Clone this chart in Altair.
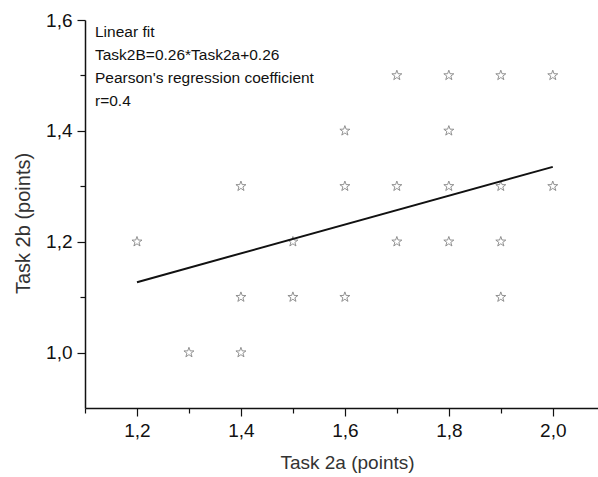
import altair as alt
import pandas as pd

# Scores per student
task2a = [1.2, 1.3, 1.4, 1.4, 1.4, 1.5, 1.5, 1.6, 1.6, 1.6, 1.7, 1.7, 1.7,
          1.8, 1.8, 1.8, 1.8, 1.9, 1.9, 1.9, 1.9, 2.0, 2.0]
task2b = [1.2, 1.0, 1.3, 1.1, 1.0, 1.2, 1.1, 1.4, 1.3, 1.1, 1.5, 1.3, 1.2,
          1.5, 1.4, 1.3, 1.2, 1.5, 1.3, 1.2, 1.1, 1.5, 1.3]

# Fitted line end points
fit_x = [1.2, 2.0]
fit_y = [1.127, 1.335]

notes = ["Linear fit", "Task2B=0.26*Task2a+0.26",
         "Pearson's regression coefficient", "r=0.4"]

x_major = [1.2, 1.4, 1.6, 1.8, 2.0]
x_minor = [1.1, 1.3, 1.5, 1.7, 1.9]
y_major = [1.0, 1.2, 1.4, 1.6]
y_minor = [1.1, 1.3, 1.5]

pts = pd.DataFrame({"a": task2a, "b": task2b})
fit = pd.DataFrame({"a": fit_x, "b": fit_y})
txt = pd.DataFrame({"t": ["\n".join(notes)]})

FONT = "Liberation Sans"
INK = "#111111"
xs = alt.Scale(domain=[1.1, 2.087], nice=False, zero=False)
ys = alt.Scale(domain=[0.9, 1.6], nice=False, zero=False)
comma = "replace(format(datum.value, '.1f'), '.', ',')"

common = dict(grid=False, domainColor=INK, tickColor=INK, labelColor=INK,
              titleColor="#333333", labelFont=FONT, titleFont=FONT,
              labelFontSize=19, titleFontWeight="normal",
              domainWidth=1.5, tickWidth=1.2)

STAR = ("M0,-1L0.235,-0.324L0.951,-0.309L0.38,0.124L0.588,0.809L0,0.4"
        "L-0.588,0.809L-0.38,0.124L-0.951,-0.309L-0.235,-0.324Z")

points = alt.Chart(pts).mark_point(
    shape=STAR, size=110, filled=False, stroke="#555555", strokeWidth=0.9
).encode(
    x=alt.X("a:Q", scale=xs, axis=alt.Axis(
        values=x_major, labelExpr=comma, title="Task 2a (points)",
        orient="bottom", tickSize=8, labelPadding=5, titleFontSize=19,
        titleX=262, titleY=60, titleBaseline="alphabetic", **common)),
    y=alt.Y("b:Q", scale=ys, axis=alt.Axis(
        values=y_major, labelExpr=comma, title="Task 2b (points)",
        orient="left", tickSize=8, labelPadding=5, titleFontSize=20,
        titleX=-62, titleY=203, titleBaseline="middle", **common)),
)

line = alt.Chart(fit).mark_line(color=INK, strokeWidth=2).encode(
    x=alt.X("a:Q", scale=xs, axis=alt.Axis(
        values=x_minor, labels=False, title=None, orient="bottom",
        domain=False, tickSize=5, **common)),
    y=alt.Y("b:Q", scale=ys, axis=alt.Axis(
        values=y_minor, labels=False, title=None, orient="left",
        domain=False, tickSize=5, **common)),
)

labels = alt.Chart(txt).mark_text(
    align="left", baseline="top", font=FONT, fontSize=15.5, color=INK,
    lineBreak="\n", lineHeight=23,
).encode(
    x=alt.value(10),
    y=alt.value(5),
    text="t:N",
)

chart = alt.layer(points, line, labels).resolve_axis(
    x="independent", y="independent"
).properties(
    width=513, height=388,
    autosize=alt.AutoSizeParams(type="none"),
    padding={"left": 85, "top": 20, "right": 0, "bottom": 69},
    background="white",
).configure_view(stroke=None)

chart.save("out.html", embed_options={"renderer": "svg", "actions": False})
